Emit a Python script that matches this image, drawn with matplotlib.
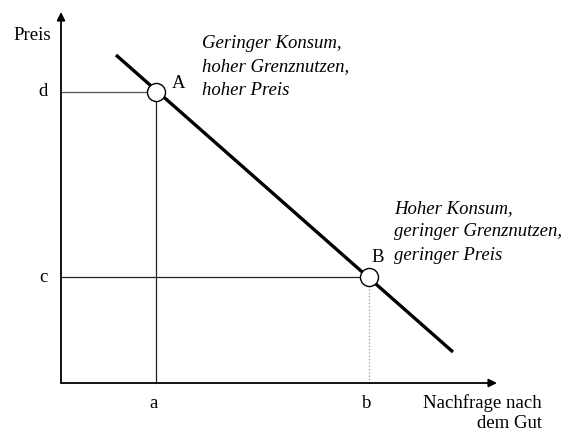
import matplotlib.pyplot as plt

# coordinates in a simple units system: origin at the axes' crossing
x_end, y_end = 436, 371          # arrow tips of the two axes
demand_x = [55, 392]
demand_y = [328, 31]
point_labels = ["A", "B"]
point_x = [95, 308]
point_y = [291, 106]
xtick_labels = ["a", "b"]
ytick_labels = ["d", "c"]

plt.rcParams['font.family'] = ['Liberation Serif', 'DejaVu Serif']

fig = plt.figure(figsize=(5.7, 4.34), dpi=100)
ax = fig.add_axes([0, 0, 1, 1])
ax.set_xlim(-61, 509)
ax.set_ylim(-51, 383)
ax.axis('off')

# axes with arrows
ax.annotate('', xy=(x_end, 0), xytext=(0, 0),
            arrowprops=dict(arrowstyle='-|>', lw=1.3, color='black',
                            mutation_scale=12, shrinkA=0, shrinkB=0))
ax.annotate('', xy=(0, y_end), xytext=(0, 0),
            arrowprops=dict(arrowstyle='-|>', lw=1.3, color='black',
                            mutation_scale=12, shrinkA=0, shrinkB=0))

# guide lines
ax.plot([0, point_x[0]], [point_y[0], point_y[0]], color='#555555', lw=0.9)
ax.plot([point_x[0], point_x[0]], [0, point_y[0]], color='#222222', lw=0.9)
ax.plot([0, point_x[1]], [point_y[1], point_y[1]], color='#222222', lw=0.9)
ax.plot([point_x[1], point_x[1]], [0, point_y[1]], color='#999999', lw=0.9, ls=':')

# demand curve
ax.plot(demand_x, demand_y, color='black', lw=2.4, solid_capstyle='butt')
ax.plot(point_x, point_y, 'o', ms=13, mfc='white', mec='black', mew=1.0)

fs = 13.5
ax.text(point_x[0] + 16, point_y[0] + 8, point_labels[0], fontsize=fs, ha='left', va='center')
ax.text(point_x[1] + 2, point_y[1] + 20, point_labels[1], fontsize=fs, ha='left', va='center')

for lab, y in zip(ytick_labels, [point_y[0], point_y[1]]):
    ax.text(-18, y, lab, fontsize=fs, ha='center', va='center')
for lab, x in zip(xtick_labels, [point_x[0], point_x[1]]):
    ax.text(x - 2, -20, lab, fontsize=fs, ha='center', va='center')

ax.text(-48, 347, "Preis", fontsize=fs, ha='left', va='center')
ax.text(481, -20, "Nachfrage nach", fontsize=fs, ha='right', va='center')
ax.text(481, -40, "dem Gut", fontsize=fs, ha='right', va='center')

ax.text(141, 316, "Geringer Konsum,\nhoher Grenznutzen,\nhoher Preis",
        fontsize=fs, style='italic', ha='left', va='center', linespacing=1.47)
ax.text(333, 151, "Hoher Konsum,\ngeringer Grenznutzen,\ngeringer Preis",
        fontsize=fs, style='italic', ha='left', va='center', linespacing=1.47)

fig.savefig('out.png', dpi=100)
